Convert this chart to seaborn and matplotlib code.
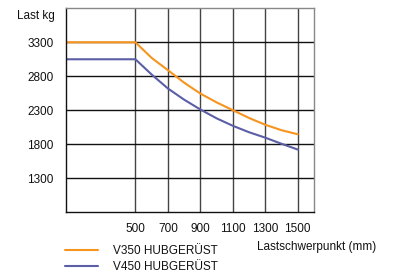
import pandas as pd
import matplotlib.pyplot as plt
import seaborn as sns
from matplotlib import font_manager

# Lastschwerpunkt (mm) und Tragfähigkeit (kg)
schwerpunkt = [75, 500, 600, 700, 800, 900, 1000, 1100, 1200, 1300, 1400, 1500]
v350 = [3300, 3300, 3070, 2890, 2705, 2545, 2415, 2300, 2185, 2085, 2005, 1945]
v450 = [3050, 3050, 2825, 2620, 2455, 2310, 2180, 2070, 1975, 1895, 1805, 1720]
serien = ['V350 HUBGERÜST', 'V450 HUBGERÜST']
x_ticks = [500, 700, 900, 1100, 1300, 1500]
y_ticks = [1300, 1800, 2300, 2800, 3300]

df = pd.DataFrame({
    'schwerpunkt': schwerpunkt * 2,
    'last': v350 + v450,
    'serie': [serien[0]] * len(v350) + [serien[1]] * len(v450),
})

sns.set_style('white')

# schmale Schrift, falls vorhanden
namen = {f.name for f in font_manager.fontManager.ttflist}
if 'Liberation Sans Narrow' in namen:
    schrift, fs = 'Liberation Sans Narrow', 9.5
elif 'DejaVu Sans Condensed' in namen:
    schrift, fs = 'DejaVu Sans Condensed', 8.5
else:
    schrift, fs = 'Liberation Sans', 8.5
plt.rcParams['font.family'] = [schrift, 'DejaVu Sans']

fig = plt.figure(figsize=(3.93, 2.73), dpi=100)
ax = fig.add_axes([0.169, 0.2234, 0.63, 0.746])

sns.lineplot(data=df, x='schwerpunkt', y='last', hue='serie',
             palette=['#F7941D', '#5B5EA6'], linewidth=1.5, ax=ax, legend=False)

ax.set_xlim(75, 1600)
ax.set_ylim(800, 3800)
ax.set_xticks(x_ticks)
ax.set_yticks(y_ticks)
ax.tick_params(axis='y', length=0, labelsize=fs, pad=9, colors='#111111')
ax.tick_params(axis='x', length=0, labelsize=fs, pad=8, colors='#111111')
for x in x_ticks:
    ax.axvline(x, color='#444444', lw=1.0, zorder=0)
for y in y_ticks:
    ax.axhline(y, color='#111111', lw=1.0, zorder=0)

for s in ['left', 'bottom']:
    ax.spines[s].set_color('#111111')
    ax.spines[s].set_linewidth(1.0)
for s in ['top', 'right']:
    ax.spines[s].set_color('#888888')
    ax.spines[s].set_linewidth(1.0)

ax.set_xlabel('')
ax.set_ylabel('')
fig.text(0.139, 0.941, 'Last kg', ha='right', va='center', fontsize=fs, color='#111111')
fig.text(0.654, 0.094, 'Lastschwerpunkt (mm)', ha='left', va='center', fontsize=fs,
         color='#111111')

handles = [plt.Line2D([], [], color='#F7941D', lw=1.5),
           plt.Line2D([], [], color='#5B5EA6', lw=1.5)]
fig.legend(handles, serien, loc='upper left', bbox_to_anchor=(0.165, 0.102),
           frameon=False, fontsize=fs, handlelength=2.85, handletextpad=1.2,
           labelspacing=0.3, borderpad=0, borderaxespad=0, labelcolor='#111111')

plt.savefig('out.png', dpi=100)
